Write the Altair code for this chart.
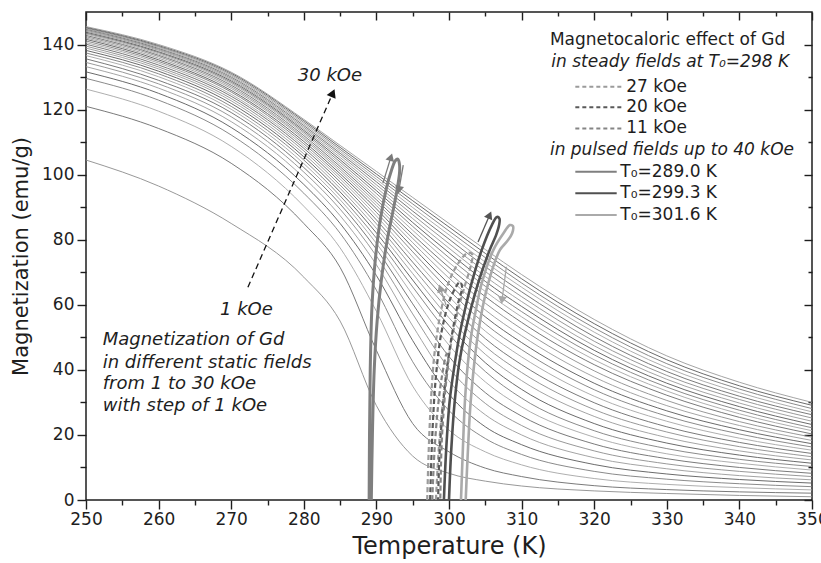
import math
import altair as alt
import pandas as pd

# ---------------------------------------------------------------------------
# Isofield magnetization curves of Gd, M(T) in emu/g for H = 1 ... 30 kOe.
# One list per temperature, entries ordered by field.
# ---------------------------------------------------------------------------
temps_K = [250, 260, 270, 280, 285, 290, 295, 300, 305, 310, 320, 330, 340, 350]
fields_kOe = list(range(1, 31))

m250 = [104.5, 121.0, 126.3, 129.6, 131.6, 133.2, 134.5, 135.6, 136.6, 137.4, 138.2, 138.9, 139.5, 140.1, 140.6,
        141.1, 141.6, 142.0, 142.4, 142.8, 143.2, 143.5, 143.8, 144.1, 144.4, 144.7, 144.9, 145.1, 145.3, 145.5]
m260 = [96.5, 114.2, 119.5, 122.9, 125.0, 126.6, 127.9, 129.0, 130.1, 131.0, 131.8, 132.5, 133.1, 133.7, 134.3,
        134.8, 135.3, 135.8, 136.3, 136.7, 137.1, 137.5, 137.8, 138.2, 138.5, 138.8, 139.1, 139.4, 139.7, 140.0]
m270 = [85.0, 103.5, 108.7, 112.2, 114.5, 116.3, 117.8, 119.1, 120.1, 121.0, 121.9, 122.7, 123.4, 124.1, 124.7,
        125.4, 125.9, 126.5, 127.0, 127.5, 128.0, 128.4, 128.8, 129.2, 129.6, 130.0, 130.4, 130.8, 131.2, 131.5]
m280 = [68.5, 85.0, 90.3, 94.3, 97.0, 99.1, 100.8, 102.2, 103.4, 104.5, 105.5, 106.4, 107.3, 108.1, 108.8,
        109.5, 110.2, 110.9, 111.4, 112.0, 112.6, 113.1, 113.6, 114.1, 114.6, 115.1, 115.6, 116.1, 116.6, 117.0]
m285 = [55.0, 71.5, 77.5, 82.0, 85.0, 87.4, 89.4, 91.0, 92.3, 93.5, 94.7, 95.8, 96.8, 97.8, 98.7,
        99.5, 100.3, 101.1, 101.8, 102.5, 103.2, 103.9, 104.6, 105.3, 106.0, 106.6, 107.2, 107.8, 108.4, 109.0]
m290 = [29.0, 46.0, 58.0, 64.5, 69.0, 72.3, 75.0, 77.1, 78.9, 80.5, 82.1, 83.5, 84.9, 86.1, 87.3,
        88.4, 89.5, 90.5, 91.4, 92.3, 93.2, 94.2, 95.1, 96.0, 96.9, 97.8, 98.6, 99.4, 100.2, 101.0]
m295 = [13.5, 23.5, 35.0, 42.5, 49.0, 53.5, 57.2, 60.3, 63.0, 65.5, 67.6, 69.6, 71.4, 73.1, 74.7,
        76.3, 77.7, 79.1, 80.4, 81.6, 82.9, 84.1, 85.3, 86.5, 87.7, 88.8, 89.9, 91.0, 92.0, 93.0]
m300 = [8.2, 14.8, 21.5, 27.5, 32.5, 36.6, 40.5, 44.1, 47.6, 51.0, 53.6, 56.0, 58.3, 60.5, 62.5,
        64.5, 66.4, 68.2, 69.9, 71.5, 73.0, 74.5, 76.0, 77.4, 78.8, 80.2, 81.5, 82.7, 83.9, 85.0]
m305 = [5.8, 9.8, 14.8, 18.9, 22.5, 26.2, 29.7, 33.0, 36.3, 39.5, 42.2, 44.8, 47.2, 49.6, 51.9,
        54.1, 56.3, 58.4, 60.5, 62.5, 64.1, 65.7, 67.2, 68.7, 70.2, 71.7, 73.1, 74.5, 75.8, 77.0]
m310 = [4.3, 7.2, 10.8, 14.0, 17.0, 20.0, 22.9, 25.8, 28.6, 31.3, 34.0, 36.7, 39.2, 41.6, 44.0,
        46.2, 48.4, 50.5, 52.6, 54.6, 56.3, 57.9, 59.5, 61.0, 62.5, 64.0, 65.4, 66.7, 68.0, 69.3]
m320 = [2.8, 4.4, 6.6, 8.8, 10.9, 13.0, 15.1, 17.2, 19.3, 21.3, 23.5, 25.7, 27.8, 29.9, 31.9,
        33.9, 35.9, 37.8, 39.7, 41.6, 43.1, 44.6, 46.0, 47.4, 48.8, 50.2, 51.6, 52.9, 54.2, 55.5]
m330 = [2.0, 3.2, 4.8, 6.4, 8.0, 9.6, 11.1, 12.7, 14.2, 15.8, 17.5, 19.2, 20.9, 22.5, 24.2,
        25.8, 27.4, 29.0, 30.6, 32.2, 33.5, 34.7, 35.9, 37.1, 38.3, 39.5, 40.7, 41.9, 43.1, 44.3]
m340 = [1.4, 2.5, 3.8, 5.0, 6.3, 7.5, 8.8, 10.0, 11.3, 12.5, 13.8, 15.1, 16.4, 17.7, 19.0,
        20.3, 21.6, 22.9, 24.1, 25.4, 26.5, 27.6, 28.7, 29.8, 30.9, 31.9, 33.0, 34.1, 35.1, 36.2]
m350 = [1.0, 2.1, 3.1, 4.1, 5.2, 6.2, 7.2, 8.2, 9.2, 10.3, 11.3, 12.3, 13.3, 14.3, 15.3,
        16.3, 17.3, 18.3, 19.3, 20.3, 21.3, 22.2, 23.2, 24.2, 25.2, 26.2, 27.1, 28.1, 29.1, 30.0]

iso_columns = [m250, m260, m270, m280, m285, m290, m295, m300, m305, m310, m320, m330, m340, m350]

# ---------------------------------------------------------------------------
# Magnetocaloric M(T) loops (temperature K, magnetization emu/g), path order.
# ---------------------------------------------------------------------------
# pulsed fields up to 40 kOe
pulse_289_T = [289.0, 289.05, 289.15, 289.4, 289.9, 290.6, 291.4, 292.1, 292.6, 292.95,
               293.15, 293.2, 292.9, 292.3, 291.5, 290.7, 290.1, 289.7, 289.45, 289.3]
pulse_289_M = [0, 20, 40, 60, 75, 87, 96, 101.5, 104.3, 104.8,
               103.6, 101, 96, 89, 80, 68, 55, 40, 20, 0]
pulse_299_T = [299.3, 299.6, 300.1, 300.8, 301.5, 302.3, 303.1, 304.5, 305.9, 306.6,
               306.95, 306.9, 306.5, 305.6, 304.0, 302.2, 301.4, 300.8, 300.3, 300.0]
pulse_299_M = [0, 15, 30.6, 42, 51.3, 59.5, 66.6, 76.8, 84.5, 87.0,
               86.5, 84.5, 81.5, 76.8, 66.6, 51.3, 42, 30.6, 15, 0]
pulse_301_T = [301.65, 301.9, 302.2, 302.6, 303.1, 303.8, 304.5, 306.1, 307.5, 308.4,
               308.8, 308.7, 308.0, 307.0, 305.4, 304.0, 303.0, 302.6, 302.3]
pulse_301_M = [0, 15, 30.6, 42, 51.2, 59.5, 66.6, 76.8, 82.0, 84.5,
               84.2, 82.0, 79.5, 76.8, 66.6, 51.2, 30.6, 15, 0]

# steady fields, T0 = 298 K
steady_27_T = [297.0, 297.2, 297.5, 298.0, 298.8, 299.8, 301.2, 302.6, 303.2, 303.0, 302.2, 301.2, 300.2, 299.3, 298.6, 298.2]
steady_27_M = [0, 15, 30, 45, 57, 66, 72.5, 76, 75.5, 72, 66, 58, 47, 33, 16, 0]
steady_20_T = [297.4, 297.7, 298.2, 299.0, 300.2, 301.5, 301.8, 301.2, 300.2, 299.3, 298.7, 298.5]
steady_20_M = [0, 20, 38, 52, 62, 67, 65.5, 60, 48, 32, 14, 0]
steady_11_T = [297.7, 298.0, 298.5, 299.1, 299.7, 299.9, 299.5, 299.0, 298.8]
steady_11_M = [0, 15, 29, 39, 45, 43.5, 34, 18, 0]

# direction arrows on the loops: start (T, M) -> tip (T, M)
loop_arrow_T0 = [290.9, 293.7, 304.0, 307.9, 299.6]
loop_arrow_M0 = [97.4, 102.9, 79.3, 71.7, 59.9]
loop_arrow_T1 = [292.0, 293.1, 305.6, 307.3, 298.8]
loop_arrow_M1 = [105.4, 95.3, 87.6, 61.4, 65.1]
loop_arrow_col = ["#7a7a7a", "#7a7a7a", "#555555", "#a8a8a8", "#9b9b9b"]

# dashed guide arrow across the field family, 1 kOe -> 30 kOe
guide_T = [272.3, 284.0]
guide_M = [65.4, 125.1]

# ---------------------------------------------------------------------------
FONT = "DejaVu Sans"
INK = "#1e1e1e"
PX_PER_K = 726 / 100.0
PX_PER_EMU = 488 / 150.0

x_scale = alt.Scale(domain=[250, 350], nice=False, zero=False)
y_scale = alt.Scale(domain=[0, 150], nice=False, zero=True)


def X(field="T", axis=None):
    return alt.X(f"{field}:Q", scale=x_scale, axis=axis)


def Y(field="M", axis=None):
    return alt.Y(f"{field}:Q", scale=y_scale, axis=axis)


x_bottom = alt.Axis(
    title="Temperature (K)", values=list(range(250, 351, 5)),
    labelExpr="datum.value % 10 === 0 ? datum.label : ''",
    tickSize={"condition": {"test": "datum.value % 10 === 0", "value": 9}, "value": 5},
    tickColor=INK, tickWidth=1.4, domain=False, grid=False,
    labelFont=FONT, labelFontSize=17, labelColor=INK, labelPadding=2,
    labelFlush=False, labelOverlap=False,
    titleFont=FONT, titleFontSize=24, titleFontWeight="normal", titleColor=INK, titlePadding=7,
)
y_left = alt.Axis(
    title="Magnetization (emu/g)", values=list(range(0, 150, 10)),
    labelExpr="datum.value % 20 === 0 ? datum.label : ''",
    tickSize={"condition": {"test": "datum.value % 20 === 0", "value": 9}, "value": 6},
    tickColor=INK, tickWidth=1.4, domain=False, grid=False,
    labelFont=FONT, labelFontSize=17, labelColor=INK, labelPadding=3,
    labelOverlap=False,
    titleFont=FONT, titleFontSize=21, titleFontWeight="normal", titleColor=INK, titlePadding=10,
)
# mirrored ticks on the top and right edges, pointing into the plot
x_top = alt.Axis(
    orient="top", values=list(range(250, 351, 5)), labels=False, title=None,
    domain=False, grid=False, offset=-8, tickSize=8, tickColor=INK, tickWidth=1.4,
    tickDash={"condition": {"test": "datum.value % 10 === 0", "value": [8, 0]}, "value": [0, 4, 4, 0]},
)
y_right = alt.Axis(
    orient="right", values=list(range(0, 150, 10)), labels=False, title=None,
    domain=False, grid=False, offset=-8, tickSize=8, tickColor=INK, tickWidth=1.4,
    tickDash={"condition": {"test": "datum.value % 20 === 0", "value": [8, 0]}, "value": [0, 4, 4, 0]},
)

# --- isofield curves
rows = []
for t, column in zip(temps_K, iso_columns):
    for h, m in zip(fields_kOe, column):
        rows.append({"T": t, "M": m, "H": h})
iso = pd.DataFrame(rows)
curve_greys = ["#8c8c8c", "#6b6b6b", "#a5a5a5", "#7d7d7d", "#5a5a5a", "#9a9a9a"]
curves = alt.Chart(iso).mark_line(interpolate="monotone", strokeWidth=0.9).encode(
    x=X(axis=x_bottom), y=Y(axis=y_left),
    color=alt.Color("H:N", scale=alt.Scale(domain=fields_kOe,
                                           range=[curve_greys[i % 6] for i in range(30)]), legend=None),
    detail="H:N",
)


def path(T, M, color, width, dash=None):
    df = pd.DataFrame({"T": T, "M": M, "k": list(range(len(T)))})
    props = dict(color=color, strokeWidth=width, interpolate="catmull-rom")
    if dash:
        props["strokeDash"] = dash
    return alt.Chart(df).mark_line(**props).encode(x=X(), y=Y(), order="k:Q")


loops = [
    path(steady_27_T, steady_27_M, "#9b9b9b", 2.2, [5, 3]),
    path(steady_20_T, steady_20_M, "#5a5a5a", 2.2, [5, 3]),
    path(steady_11_T, steady_11_M, "#858585", 2.2, [5, 3]),
    path(pulse_289_T, pulse_289_M, "#7f7f7f", 3.0),
    path(pulse_299_T, pulse_299_M, "#505050", 2.6),
    path(pulse_301_T, pulse_301_M, "#aaaaaa", 2.6),
]


def heading(t0, m0, t1, m1):
    a = math.degrees(math.atan2((t1 - t0) * PX_PER_K, (m1 - m0) * PX_PER_EMU))
    return (a + 360) % 360


arrows_df = pd.DataFrame({
    "T": loop_arrow_T0, "M": loop_arrow_M0, "T2": loop_arrow_T1, "M2": loop_arrow_M1,
    "c": loop_arrow_col,
    "ang": [heading(a, b, c, d) for a, b, c, d in zip(loop_arrow_T0, loop_arrow_M0, loop_arrow_T1, loop_arrow_M1)],
})
arrow_shafts = alt.Chart(arrows_df).mark_rule(strokeWidth=1.3).encode(
    x=X(), y=Y(), x2="T2:Q", y2="M2:Q", color=alt.Color("c:N", scale=None))
arrow_heads = alt.Chart(arrows_df).mark_point(shape="triangle-up", filled=True, size=80, opacity=1).encode(
    x=X("T2"), y=Y("M2"), angle=alt.Angle("ang:Q", scale=None), color=alt.Color("c:N", scale=None))

guide_df = pd.DataFrame({"T": [guide_T[0]], "M": [guide_M[0]], "T2": [guide_T[1]], "M2": [guide_M[1]],
                         "ang": [heading(guide_T[0], guide_M[0], guide_T[1], guide_M[1])]})
guide_shaft = alt.Chart(guide_df).mark_rule(strokeWidth=1.3, strokeDash=[6, 4], color="#111111").encode(
    x=X(), y=Y(), x2="T2:Q", y2="M2:Q")
guide_head = alt.Chart(guide_df).mark_point(shape="triangle-up", filled=True, size=95, color="#111111",
                                            opacity=1).encode(
    x=X("T2"), y=Y("M2"), angle=alt.Angle("ang:Q", scale=None))

# --- annotations
field_labels = pd.DataFrame({"txt": ["30 kOe", "1 kOe"], "T": [283.6, 272.1], "M": [130.3, 58.3]})
field_text = alt.Chart(field_labels).mark_text(font=FONT, fontSize=18, fontStyle="italic", color=INK,
                                               align="center", baseline="middle").encode(
    x=X(), y=Y(), text="txt:N")

static_lines = ["Magnetization of Gd", "in different static fields", "from 1 to 30 kOe", "with step of 1 kOe"]
static_df = pd.DataFrame({"txt": static_lines, "T": [252.3] * 4, "M": [49.1, 42.0, 35.6, 28.8]})
static_text = alt.Chart(static_df).mark_text(font=FONT, fontSize=18, fontStyle="italic", color=INK,
                                             align="left", baseline="middle").encode(
    x=X(), y=Y(), text="txt:N")

# --- legend block
legend_title = alt.Chart(pd.DataFrame({"txt": ["Magnetocaloric effect of Gd"], "T": [313.9], "M": [141.4]})).mark_text(
    font=FONT, fontSize=17, color=INK, align="left", baseline="middle").encode(x=X(), y=Y(), text="txt:N")
legend_groups = alt.Chart(pd.DataFrame({
    "txt": ["in steady fields at T\u2080=298 K", "in pulsed fields up to 40 kOe"],
    "T": [314.1, 313.9], "M": [134.7, 107.6]})).mark_text(
    font=FONT, fontSize=17, fontStyle="italic", color=INK, align="left", baseline="middle").encode(
    x=X(), y=Y(), text="txt:N")

steady_names = ["27 kOe", "20 kOe", "11 kOe"]
steady_cols = ["#9b9b9b", "#5a5a5a", "#858585"]
steady_rows_M = [127.0, 120.7, 114.2]
pulse_names = ["T\u2080=289.0 K", "T\u2080=299.3 K", "T\u2080=301.6 K"]
pulse_cols = ["#7f7f7f", "#505050", "#aaaaaa"]
pulse_rows_M = [100.9, 94.3, 87.6]

steady_key = pd.DataFrame({"T": [317.4] * 3, "T2": [324.0] * 3, "M": steady_rows_M, "c": steady_cols,
                           "txt": steady_names, "TL": [324.4] * 3})
pulse_key = pd.DataFrame({"T": [317.4] * 3, "T2": [323.1] * 3, "M": pulse_rows_M, "c": pulse_cols,
                          "txt": pulse_names, "TL": [323.6] * 3})
steady_key_lines = alt.Chart(steady_key).mark_rule(strokeWidth=2, strokeDash=[4, 3]).encode(
    x=X(), x2="T2:Q", y=Y(), color=alt.Color("c:N", scale=None))
pulse_key_lines = alt.Chart(pulse_key).mark_rule(strokeWidth=2).encode(
    x=X(), x2="T2:Q", y=Y(), color=alt.Color("c:N", scale=None))
key_text = alt.Chart(pd.concat([steady_key, pulse_key])).mark_text(
    font=FONT, fontSize=17, color=INK, align="left", baseline="middle").encode(
    x=X("TL"), y=Y(), text="txt:N")

frame = alt.Chart(pd.DataFrame({"T": [250, 350], "M": [0, 150]})).mark_point(opacity=0).encode(
    x=X(axis=x_top), y=Y(axis=y_right))

chart = alt.layer(
    curves, *loops, arrow_shafts, arrow_heads, guide_shaft, guide_head,
    field_text, static_text, legend_title, legend_groups,
    steady_key_lines, pulse_key_lines, key_text, frame,
).resolve_axis(x="independent", y="independent").properties(
    width=726, height=488,
    padding={"left": 86, "top": 12, "right": 9, "bottom": 63},
    autosize=alt.AutoSizeParams(type="none"),
    background="white",
).configure_view(stroke=INK, strokeWidth=1.5)

chart.save("out.html", embed_options={"renderer": "svg", "actions": False})
